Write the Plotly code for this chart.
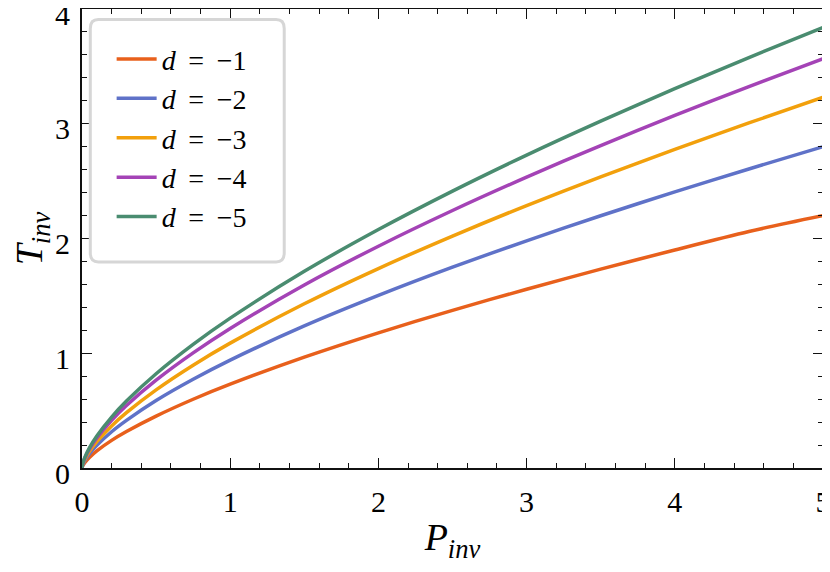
import plotly.graph_objects as go

# P_inv sample points and T_inv for each d
p_inv = [0, 0.005, 0.02, 0.05, 0.1, 0.2, 0.3, 0.5, 0.75, 1, 1.5, 2, 2.5, 3, 3.5, 4, 4.5, 5]
t_d1 = [0, 0.019, 0.049, 0.092, 0.149, 0.241, 0.318, 0.452, 0.599, 0.73, 0.966, 1.178, 1.374, 1.558, 1.733, 1.90, 2.061, 2.20]
t_d2 = [0, 0.026, 0.066, 0.123, 0.197, 0.316, 0.415, 0.588, 0.773, 0.94, 1.238, 1.504, 1.75, 1.98, 2.198, 2.406, 2.606, 2.80]
t_d3 = [0, 0.030, 0.077, 0.144, 0.229, 0.367, 0.482, 0.681, 0.896, 1.088, 1.431, 1.738, 2.021, 2.287, 2.537, 2.777, 3.007, 3.23]
t_d4 = [0, 0.035, 0.089, 0.164, 0.261, 0.415, 0.544, 0.765, 1.003, 1.216, 1.595, 1.933, 2.244, 2.535, 2.810, 3.072, 3.324, 3.566]
t_d5 = [0, 0.038, 0.095, 0.176, 0.279, 0.444, 0.583, 0.821, 1.077, 1.306, 1.714, 2.078, 2.413, 2.727, 3.023, 3.306, 3.577, 3.84]

labels = ["1", "2", "3", "4", "5"]
series = [t_d1, t_d2, t_d3, t_d4, t_d5]
colors = ["#e8601c", "#5f72c8", "#f2a00c", "#a443b6", "#4a8c70"]

FONT = "Liberation Serif"

fig = go.Figure()
for lab, ys, col in zip(labels, series, colors):
    fig.add_trace(go.Scatter(
        x=p_inv, y=ys, mode="lines",
        name="<i>d</i> \u2009= \u2009\u2212" + lab,
        line=dict(color=col, width=3.5, shape="spline", smoothing=0.8),
    ))

axis_common = dict(
    showline=True, linecolor="#111", linewidth=2, mirror="ticks",
    ticks="inside", ticklen=10, tickwidth=1, tickcolor="#111",
    showgrid=False, zeroline=False, ticklabeloverflow="allow", automargin=False,
    tickfont=dict(family=FONT, size=30, color="black"),
    minor=dict(ticks="inside", ticklen=5, tickwidth=1, tickcolor="#111", dtick=0.2),
)

fig.update_xaxes(range=[0, 5], dtick=1, ticklabelstandoff=6,
                 title=dict(text="<i>P</i><sub><i>inv</i></sub>", standoff=6,
                            font=dict(family=FONT, size=38, color="black")),
                 **axis_common)
fig.update_yaxes(range=[0, 4], dtick=1, ticklabelstandoff=4, ticklabelshift=5,
                 title=dict(text="<i>T</i><sub><i>inv</i></sub>", standoff=10,
                            font=dict(family=FONT, size=38, color="black")),
                 **axis_common)

# rounded legend frame
fig.add_shape(type="path", xref="paper", yref="paper",
              path="M 0.0220,0.9770 L 0.2620,0.9770 Q 0.2729,0.9770 0.2729,0.9574 "
                   "L 0.2729,0.4686 Q 0.2729,0.4490 0.2620,0.4490 L 0.0220,0.4490 "
                   "Q 0.0112,0.4490 0.0112,0.4686 L 0.0112,0.9574 Q 0.0112,0.9770 0.0220,0.9770 Z",
              line=dict(color="#d6d6d6", width=3), fillcolor="white", layer="above")

# page body adds an 8px offset, so the figure is sized to fill the rest of the window
fig.update_layout(
    width=822, height=564,
    margin=dict(l=74, r=7, t=1, b=104),
    plot_bgcolor="white", paper_bgcolor="white",
    font=dict(family=FONT, size=28, color="black"),
    legend=dict(x=0.04, y=0.945, xanchor="left", yanchor="top",
                bgcolor="rgba(0,0,0,0)", borderwidth=0, itemwidth=40,
                font=dict(family=FONT, size=28), tracegroupgap=0),
    showlegend=True,
)

fig.write_html("out.html")
